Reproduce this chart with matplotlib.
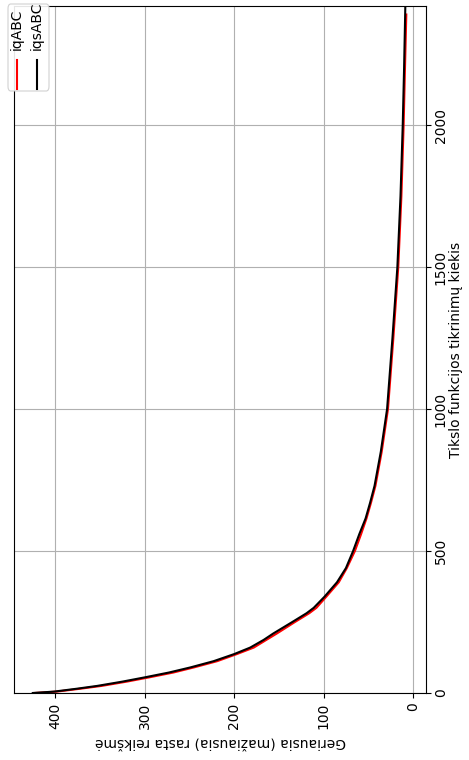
import matplotlib
matplotlib.use("Agg")
import matplotlib.pyplot as plt
from matplotlib.lines import Line2D
from matplotlib.patches import FancyBboxPatch

# Data (evaluations -> best value found)
evals_iq = [0, 5, 15, 25, 40, 55, 72, 90, 112, 137, 160, 187, 210, 250, 281, 300, 339, 390, 440, 500,
            560, 615, 670, 730, 850, 1000, 1250, 1500, 1750, 2000, 2200, 2390]
best_iq = [423, 398, 372, 348, 320, 295, 268, 245, 219, 197, 178, 164, 152, 132, 116, 108, 97, 83, 74, 65,
           58, 52, 47, 42, 35, 28, 22, 16.5, 13, 10.5, 9, 7.5]
evals_iqs = [0, 5, 15, 25, 40, 55, 72, 90, 112, 137, 160, 187, 210, 250, 281, 300, 339, 390, 440, 500,
             560, 615, 670, 730, 850, 1000, 1250, 1500, 1750, 2000, 2200, 2420]
best_iqs = [425, 401, 376, 353, 325, 300, 273, 249, 223, 200, 182, 167, 156, 135, 119, 111, 99, 85, 75, 67,
            60, 53, 48, 43, 36, 29, 23, 17.5, 14, 11.5, 10, 8.6]
labels = ["iqABC", "iqsABC"]
colors = ["red", "black"]

W, H = 469, 760
fig = plt.figure(figsize=(W / 100, H / 100), dpi=100)
ax = fig.add_axes([14 / W, 1 - 693 / H, 412 / W, 687 / H])

# chart is shown rotated: value on the horizontal axis (reversed), evaluations vertical
ax.plot(best_iq, evals_iq, color=colors[0], lw=1.5)
ax.plot(best_iqs, evals_iqs, color=colors[1], lw=1.5)

ax.set_xlim(446, -14.5)
ax.set_ylim(0, 2420)
ax.set_xticks([400, 300, 200, 100, 0])
ax.set_yticks([0, 500, 1000, 1500, 2000])
ax.grid(True, color="#b0b0b0", lw=0.8)

ax.yaxis.tick_right()
ax.yaxis.set_label_position("right")
ax.tick_params(axis="y", pad=2)
plt.setp(ax.get_xticklabels(), rotation=90)
plt.setp(ax.get_yticklabels(), rotation=90, va="center")
ax.set_ylabel("Tikslo funkcijos tikrinimų kiekis", rotation=90, labelpad=1)
ax.set_xlabel("Geriausia (mažiausia) rasta reikšmė", rotation=180)

# legend drawn by hand, rotated like the rest of the chart
box = FancyBboxPatch((8 / W, 1 - 91 / H), 41 / W, 87 / H,
                     boxstyle="round,pad=0,rounding_size=0.006",
                     transform=fig.transFigure, facecolor="white",
                     edgecolor="#cccccc", lw=0.8, alpha=0.9)
fig.add_artist(box)
for i, (lab, col) in enumerate(zip(labels, colors)):
    x = (17 + 19.5 * i) / W
    fig.text(x, 1 - 50 / H, lab, rotation=90, ha="center", va="bottom", fontsize=10)
    fig.add_artist(Line2D([x, x], [1 - 60 / H, 1 - 89 / H], color=col, lw=1.5,
                          transform=fig.transFigure))

fig.savefig("out.png", dpi=100)
